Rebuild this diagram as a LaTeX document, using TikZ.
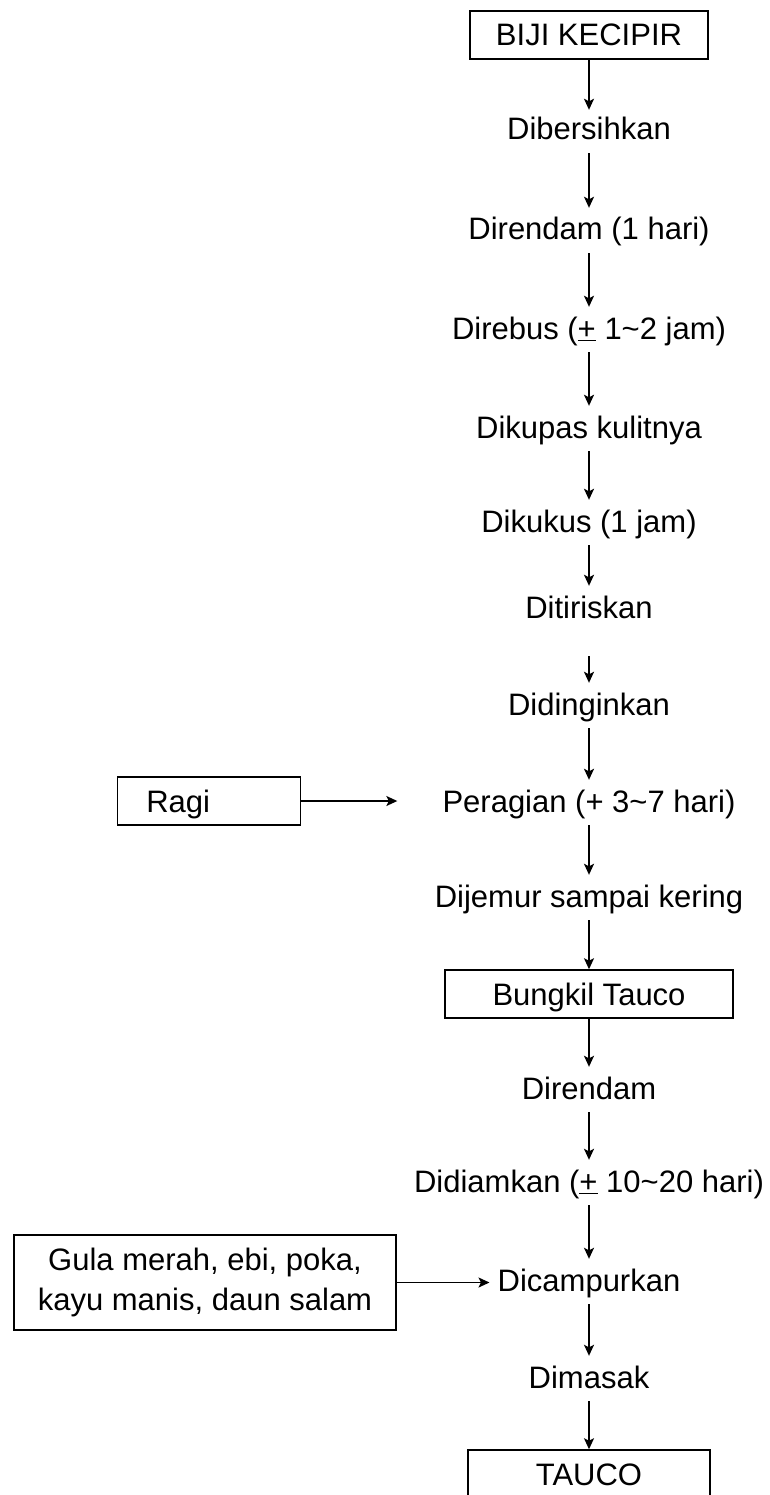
\documentclass[tikz,border=0pt]{standalone}
\usepackage{fontspec}
\setmainfont{Liberation Sans}
\usetikzlibrary{arrows.meta}
\begin{document}
\begin{tikzpicture}[x=1pt,y=-1pt,
  every node/.style={font=\fontsize{31}{40}\selectfont},
  lbl/.style={inner sep=0pt, text height=22pt, text depth=0pt},
  boxed/.style={draw, line width=1.5pt, inner sep=0pt, text height=22pt, text depth=0pt},
  tip/.style={-{Stealth[length=11pt,width=10pt,inset=2.5pt]}},
  flow/.style={line width=1.6pt, tip, shorten <=13pt, shorten >=10pt},
  side/.style={line width=1.6pt, tip}
]
\useasboundingbox (0,0) rectangle (770,1495);

% main column, all steps on one vertical axis
\node[boxed, minimum width=238pt, minimum height=48pt] (b0) at (589,35) {BIJI KECIPIR};
\node[lbl] (t1) at (589,129) {Dibersihkan};
\node[lbl] (t2) at (589,229) {Direndam (1 hari)};
\node[lbl] (t3) at (589,328) {Direbus (\underline{+} 1\textasciitilde 2 jam)};
\node[lbl] (t4) at (589,427) {Dikupas kulitnya};
\node[lbl] (t5) at (589,521) {Dikukus (1 jam)};
\node[lbl] (t6) at (589,607) {Ditiriskan};
\node[lbl] (t7) at (589,704) {Didinginkan};
\node[lbl] (t8) at (589,801) {Peragian (+ 3\textasciitilde 7 hari)};
\node[lbl] (t9) at (589,896) {Dijemur sampai kering};
\node[boxed, minimum width=288pt, minimum height=48pt] (b1) at (589,994) {Bungkil Tauco};
\node[lbl] (t10) at (589,1088) {Direndam};
\node[lbl] (t11) at (589,1181) {Didiamkan (\underline{+} 10\textasciitilde 20 hari)};
\node[lbl] (t12) at (589,1280) {Dicampurkan};
\node[lbl] (t13) at (589,1377) {Dimasak};
\node[boxed, minimum width=242pt, minimum height=48pt] (b2) at (589,1474) {TAUCO};

% side inputs
\node[boxed, anchor=east, text width=183pt, align=left, minimum height=48pt] (ragi) at (301,801)
  {\hspace*{29pt}Ragi};
\node[boxed, minimum width=382pt, minimum height=95pt, align=center, text height=, text depth=]
  (gula) at (205,1282.5) {Gula merah, ebi, poka,\\kayu manis, daun salam};

% connectors
\draw[flow, shorten <=0pt, shorten >=8pt] (b0.south) -- (t1.north);
\draw[flow] (t1.south) -- (t2.north);
\draw[flow] (t2.south) -- (t3.north);
\draw[flow] (t3.south) -- (t4.north);
\draw[flow] (t4.south) -- (t5.north);
\draw[flow] (t5.south) -- (t6.north);
\draw[flow, shorten <=38pt] (t6.south) -- (t7.north);
\draw[flow] (t7.south) -- (t8.north);
\draw[flow] (t8.south) -- (t9.north);
\draw[flow, shorten >=0pt] (t9.south) -- (b1.north);
\draw[flow, shorten <=0pt] (b1.south) -- (t10.north);
\draw[flow] (t10.south) -- (t11.north);
\draw[flow] (t11.south) -- (t12.north);
\draw[flow] (t12.south) -- (t13.north);
\draw[flow, shorten >=0pt] (t13.south) -- (b2.north);

\draw[side, shorten >=45pt] (ragi.east) -- (ragi.east -| t8.west);
\draw[side, shorten >=8pt] (gula.east) -- (gula.east -| t12.west);
\end{tikzpicture}
\end{document}
